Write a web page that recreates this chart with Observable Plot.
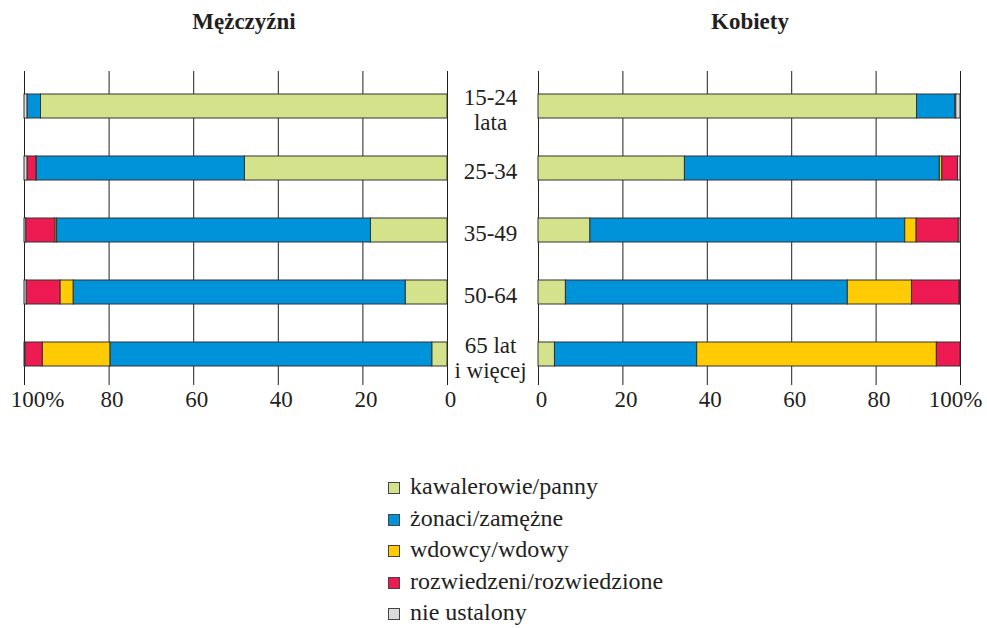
<!DOCTYPE html>
<html><head><meta charset="utf-8">
<script src="https://cdn.jsdelivr.net/npm/d3@7"></script>
<script src="https://cdn.jsdelivr.net/npm/@observablehq/plot@0.6"></script>
<style>
body{margin:0;background:#fff;font-family:"Liberation Serif","Times New Roman",serif;color:#231f20}
#wrap{position:relative;width:987px;height:628px;overflow:hidden;background:#fff}
.title{position:absolute;top:9px;font-weight:bold;font-size:23px;line-height:26px;transform:translateX(-50%);white-space:nowrap}
#left,#right{position:absolute;top:0}
#left{left:0}
#right{left:470px}
#legend{position:absolute;left:388px;top:471px;font-size:24px}
.item{height:31.5px;display:flex;align-items:center;white-space:nowrap}
.sw{width:10px;height:10px;border:1px solid #444;margin-right:10px;margin-top:3px}
</style></head>
<body><div id="wrap">
<div class="title" style="left:244px">Mężczyźni</div>
<div class="title" style="left:750px">Kobiety</div>
<div id="left"></div><div id="right"></div>
<div id="legend"></div>
</div>
<script>
const ages = ["15-24\nlata", "25-34", "35-49", "50-64", "65 lat\ni więcej"];
const statuses = ["kawalerowie/panny", "żonaci/zamężne", "wdowcy/wdowy", "rozwiedzeni/rozwiedzione", "nie ustalony"];
const colors = ["#d4e38b", "#0093d9", "#ffcb05", "#ee1a52", "#dcdcdc"];
const xTicks = [0, 20, 40, 60, 80, 100];

// Mężczyźni (%)
const menKawalerowie = [96.1, 47.9, 18.1, 9.9, 3.6];
const menZonaci = [3.2, 49.2, 74.2, 78.5, 76.1];
const menWdowcy = [0, 0.1, 0.4, 3.1, 16.0];
const menRozwiedzeni = [0, 2.1, 6.9, 8.0, 4.1];
const menNieUstalony = [0.7, 0.7, 0.4, 0.5, 0.2];

// Kobiety (%)
const womenPanny = [89.7, 34.7, 12.3, 6.5, 3.9];
const womenZamezne = [9.1, 60.4, 74.6, 66.8, 33.7];
const womenWdowy = [0, 0.6, 2.7, 15.2, 56.8];
const womenRozwiedzione = [0.2, 3.7, 10.0, 11.3, 5.6];
const womenNieUstalony = [1.0, 0.6, 0.4, 0.2, 0];

function table(series) {
  const rows = [];
  series.forEach((arr, si) => arr.forEach((v, ai) => {
    if (v > 0) rows.push({age: ages[ai], status: statuses[si], value: v});
  }));
  return rows;
}
const menData = table([menKawalerowie, menZonaci, menWdowcy, menRozwiedzeni, menNieUstalony]);
const womenData = table([womenPanny, womenZamezne, womenWdowy, womenRozwiedzione, womenNieUstalony]);

const ink = "#231f20";
function chart(data, isLeft) {
  const marks = [
    Plot.gridX(xTicks, {stroke: ink, strokeOpacity: 1, strokeWidth: 1}),
    Plot.barX(data, {x: "value", y: "age", fill: "status", order: statuses, stroke: "#333", strokeWidth: 1}),
    Plot.axisX(xTicks.filter(t => t !== 100), {tickSize: 0, tickPadding: 5, fontSize: 23, dx: 3, tickFormat: d => String(d), fill: ink, label: null}),
    Plot.axisX([100], {tickSize: 0, tickPadding: 5, fontSize: 23, dx: isLeft ? 13 : -5, tickFormat: () => "100%", fill: ink, label: null})
  ];
  if (!isLeft) {
    marks.push(Plot.text(ages, {y: d => d, text: d => d, frameAnchor: "left", dx: -48, dy: 3, fontSize: 23, lineHeight: 1.08, textAnchor: "middle", fill: ink}));
  }
  return Plot.plot({
    width: isLeft ? 470 : 517,
    height: 420,
    marginLeft: isLeft ? 24 : 68,
    marginRight: isLeft ? 23 : 27,
    marginTop: 71,
    marginBottom: 35,
    x: {domain: [0, 100], reverse: isLeft, label: null},
    y: {domain: ages, paddingInner: 0.607, paddingOuter: 0.325, align: 0.55, axis: null},
    color: {domain: statuses, range: colors},
    style: {fontFamily: '"Liberation Serif", "Times New Roman", serif', fontSize: "22px", color: ink, background: "transparent", overflow: "visible"},
    marks
  });
}
document.getElementById("left").appendChild(chart(menData, true));
document.getElementById("right").appendChild(chart(womenData, false));

const legend = document.getElementById("legend");
statuses.forEach((s, i) => {
  const row = document.createElement("div");
  row.className = "item";
  const sw = document.createElement("span");
  sw.className = "sw";
  sw.style.background = colors[i];
  const t = document.createElement("span");
  t.textContent = s;
  row.appendChild(sw); row.appendChild(t);
  legend.appendChild(row);
});
</script>
</body></html>
